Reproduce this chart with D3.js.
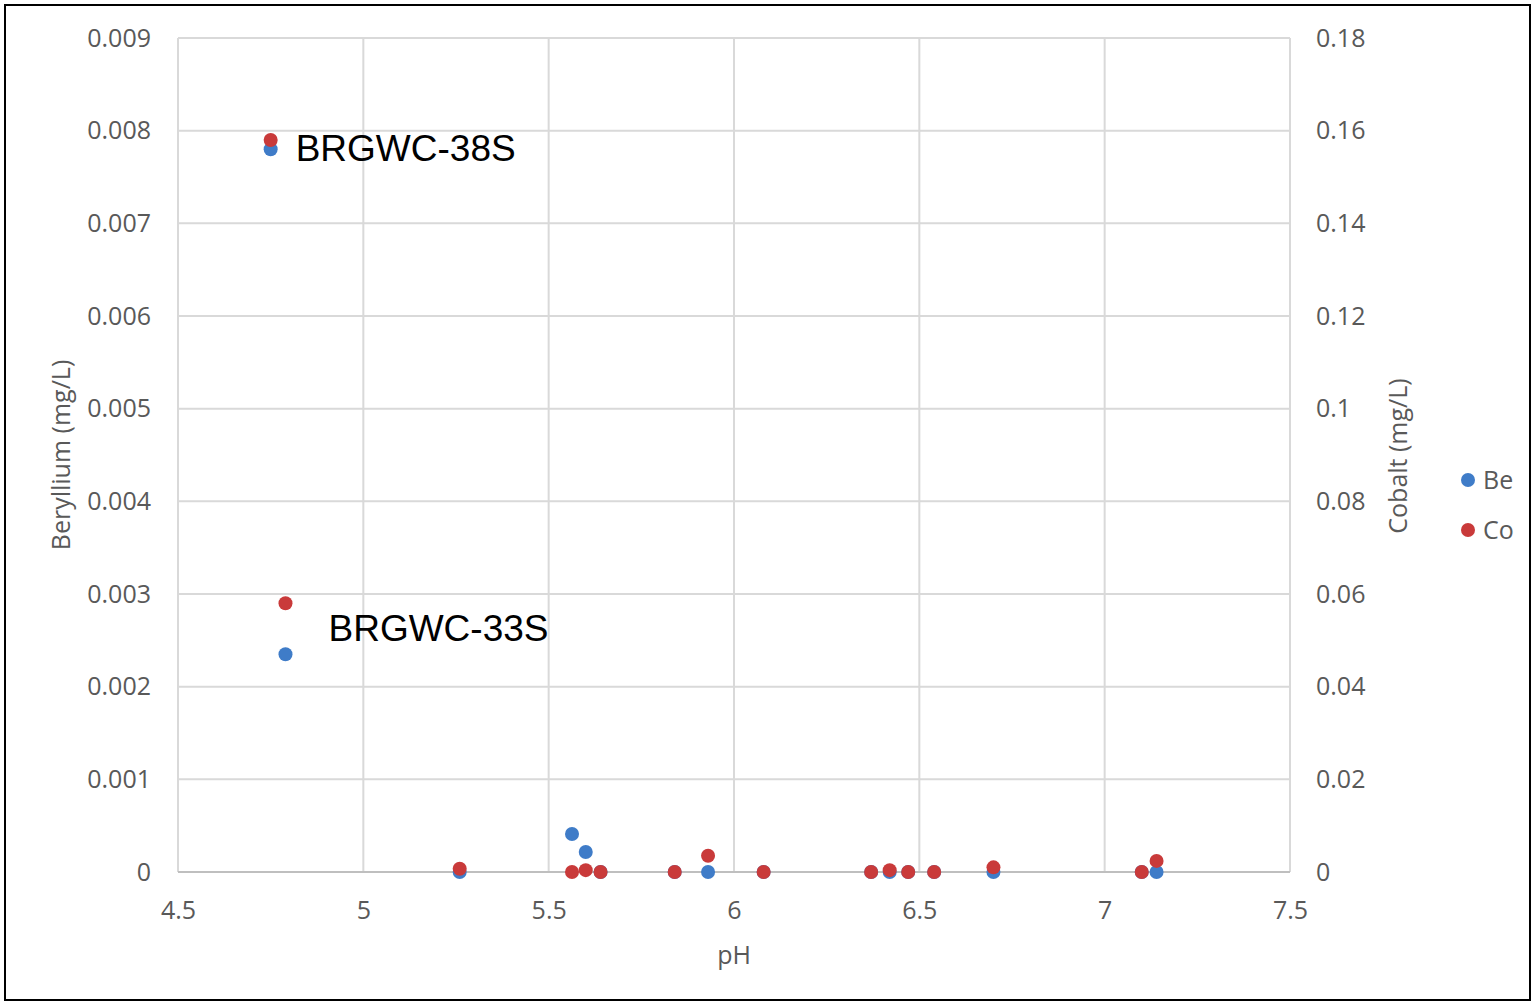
<!doctype html>
<html lang="en">
<head>
<meta charset="utf-8">
<title>Be and Co vs pH</title>
<style>
  html, body { margin: 0; padding: 0; background: #fff; }
</style>
</head>
<body>
<div id="chart"></div>
<script src="https://cdn.jsdelivr.net/npm/d3@7"></script>
<script>
// data
const phValues = [4.75, 4.79, 5.26, 5.563, 5.60, 5.64, 5.84, 5.93, 6.08, 6.37, 6.42, 6.47, 6.54, 6.70, 7.10, 7.14];
const beValues = [0.0078, 0.00235, 0, 0.00041, 0.000216, 0, 0, 0, 0, 0, 0, 0, 0, 0, 0, 0];
const coValues = [0.158, 0.058, 0.0007, 0, 0.0004, 0, 0, 0.0035, 0, 0, 0.0004, 0, 0, 0.001, 0, 0.0024];
const xTicks = [4.5, 5, 5.5, 6, 6.5, 7, 7.5];
const beTicks = [0, 0.001, 0.002, 0.003, 0.004, 0.005, 0.006, 0.007, 0.008, 0.009];
const coTicks = [0, 0.02, 0.04, 0.06, 0.08, 0.1, 0.12, 0.14, 0.16, 0.18];
const labels = [
  {text: "BRGWC-38S", ph: 4.75, be: 0.0078, dx: 25, dy: 12},
  {text: "BRGWC-33S", ph: 4.79, be: 0.0029, dx: 43, dy: 38}
];

const width = 1533, height = 1003;
const plotLeft = 178, plotRight = 1290, plotTop = 38, plotBottom = 872;
const blue = "#3f7cc8", red = "#c93a3a", grid = "#d9d9d9", txt = "#595959";
const uiFont = "'Open Sans', 'Noto Sans', sans-serif";

const svg = d3.select("#chart").append("svg")
  .attr("width", width).attr("height", height)
  .style("font-family", uiFont);

// outer frame
svg.append("rect")
  .attr("x", 5).attr("y", 5).attr("width", width - 8).attr("height", height - 8)
  .attr("fill", "#fff").attr("stroke", "#000").attr("stroke-width", 2);

const x = d3.scaleLinear().domain([4.5, 7.5]).range([plotLeft, plotRight]);
const yBe = d3.scaleLinear().domain([0, 0.009]).range([plotBottom, plotTop]);
const yCo = d3.scaleLinear().domain([0, 0.18]).range([plotBottom, plotTop]);

// gridlines
svg.append("g").selectAll("line").data(beTicks).enter().append("line")
  .attr("x1", plotLeft).attr("x2", plotRight)
  .attr("y1", d => yBe(d)).attr("y2", d => yBe(d))
  .attr("stroke", grid).attr("stroke-width", 2);
svg.append("g").selectAll("line").data(xTicks).enter().append("line")
  .attr("x1", d => x(d)).attr("x2", d => x(d))
  .attr("y1", plotTop).attr("y2", plotBottom)
  .attr("stroke", grid).attr("stroke-width", 2);

// bottom axis line
svg.append("line").attr("x1", plotLeft).attr("x2", plotRight)
  .attr("y1", plotBottom).attr("y2", plotBottom)
  .attr("stroke", "#bfbfbf").attr("stroke-width", 2);

// axes (text only, Excel style)
const xAxis = svg.append("g").attr("transform", "translate(0," + plotBottom + ")")
  .call(d3.axisBottom(x).tickValues(xTicks).tickSize(0).tickPadding(29).tickFormat(d3.format("")));
const lAxis = svg.append("g").attr("transform", "translate(" + plotLeft + ",0)")
  .call(d3.axisLeft(yBe).tickValues(beTicks).tickSize(0).tickPadding(27).tickFormat(d => d === 0 ? "0" : d3.format(".3f")(d)));
const rAxis = svg.append("g").attr("transform", "translate(" + plotRight + ",0)")
  .call(d3.axisRight(yCo).tickValues(coTicks).tickSize(0).tickPadding(26).tickFormat(d => d === 0 ? "0" : String(+d.toFixed(2))));
[xAxis, lAxis, rAxis].forEach(a => {
  a.select(".domain").remove();
  a.selectAll("text").attr("font-size", 25).attr("fill", txt)
    .style("font-family", uiFont);
});

// axis titles
svg.append("text").attr("x", x(6)).attr("y", 964).attr("text-anchor", "middle")
  .attr("font-size", 25).attr("fill", txt).text("pH");
svg.append("text").attr("transform", "translate(70,455) rotate(-90)").attr("text-anchor", "middle")
  .attr("font-size", 25).attr("fill", txt).text("Beryllium (mg/L)");
svg.append("text").attr("transform", "translate(1407,456) rotate(-90)").attr("text-anchor", "middle")
  .attr("font-size", 25).attr("fill", txt).text("Cobalt (mg/L)");

// points: Be first, Co on top
svg.append("g").selectAll("circle").data(phValues).enter().append("circle")
  .attr("cx", d => x(d)).attr("cy", (d, i) => yBe(beValues[i]))
  .attr("r", 7).attr("fill", blue);
svg.append("g").selectAll("circle").data(phValues).enter().append("circle")
  .attr("cx", d => x(d)).attr("cy", (d, i) => yCo(coValues[i]))
  .attr("r", 7).attr("fill", red);

// well labels
svg.append("g").selectAll("text").data(labels).enter().append("text")
  .attr("x", d => x(d.ph) + d.dx).attr("y", d => yBe(d.be) + d.dy)
  .style("font-family", "'Liberation Sans', Arial, sans-serif")
  .attr("font-size", 37).attr("fill", "#000").text(d => d.text);

// legend
const legend = svg.append("g").selectAll("g")
  .data([{name: "Be", color: blue}, {name: "Co", color: red}])
  .enter().append("g").attr("transform", (d, i) => "translate(1468," + (480 + i * 50) + ")");
legend.append("circle").attr("r", 7).attr("fill", d => d.color);
legend.append("text").attr("x", 15).attr("y", 9).attr("font-size", 25).attr("fill", txt).text(d => d.name);
</script>
</body>
</html>
